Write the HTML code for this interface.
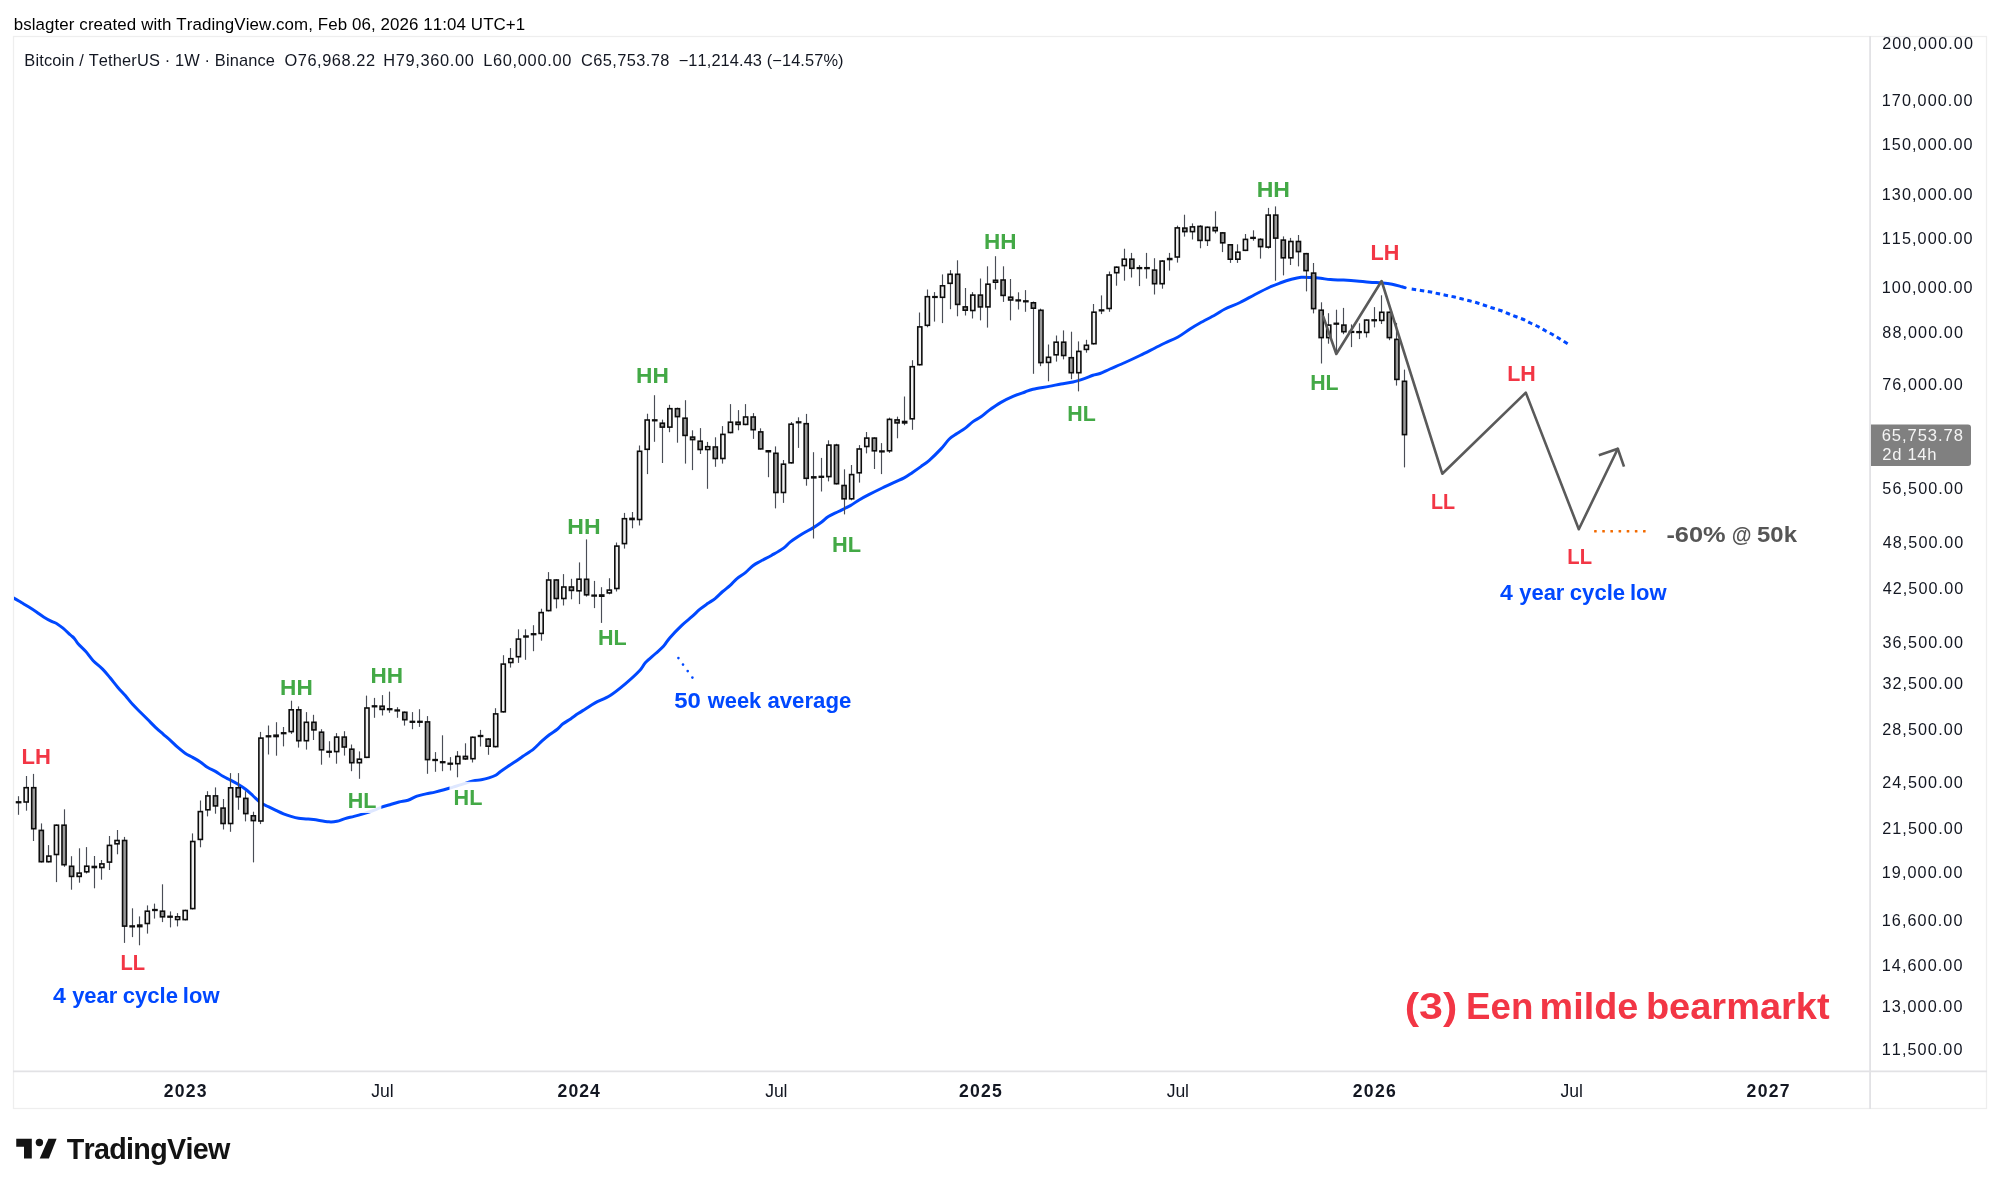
<!DOCTYPE html><html><head><meta charset="utf-8"><style>html,body{margin:0;padding:0;background:#fff;width:2000px;height:1190px;overflow:hidden}svg{display:block;will-change:transform}text{font-family:"Liberation Sans",sans-serif;font-kerning:none;white-space:pre}</style></head><body>
<svg width="2000" height="1190" viewBox="0 0 2000 1190">
<rect x="0" y="0" width="2000" height="1190" fill="#ffffff"/>
<text x="13.71" y="29.70" font-size="16.90" textLength="511.51" fill="#000000" style="">bslagter created with TradingView.com, Feb 06, 2026 11:04 UTC+1</text>
<rect x="13.5" y="36.5" width="1973" height="1072" fill="none" stroke="#eeeeee" stroke-width="1.3"/>
<line x1="1870.1" y1="36" x2="1870.1" y2="1109" stroke="#e2e2e5" stroke-width="1.8"/>
<line x1="13" y1="1071.3" x2="1987" y2="1071.3" stroke="#e2e2e5" stroke-width="1.8"/>
<text x="24.35" y="66.10" font-size="16.40" textLength="250.62" fill="#131722" style="">Bitcoin / TetherUS · 1W · Binance</text>
<text x="284.42" y="66.10" font-size="16.40" textLength="90.65" fill="#131722" style="">O76,968.22</text>
<text x="383.25" y="66.10" font-size="16.40" textLength="90.64" fill="#131722" style="">H79,360.00</text>
<text x="483.15" y="66.10" font-size="16.40" textLength="88.24" fill="#131722" style="">L60,000.00</text>
<text x="580.92" y="66.10" font-size="16.40" textLength="88.55" fill="#131722" style="">C65,753.78</text>
<text x="678.69" y="66.10" font-size="16.40" textLength="164.83" fill="#131722" style="">−11,214.43 (−14.57%)</text>
<text x="1882.19" y="48.73" font-size="16.20" textLength="90.75" fill="#131722" style="">200,000.00</text>
<text x="1881.77" y="105.98" font-size="16.20" textLength="90.75" fill="#131722" style="">170,000.00</text>
<text x="1881.77" y="150.07" font-size="16.20" textLength="90.75" fill="#131722" style="">150,000.00</text>
<text x="1881.77" y="200.49" font-size="16.20" textLength="90.75" fill="#131722" style="">130,000.00</text>
<text x="1881.77" y="243.68" font-size="16.20" textLength="90.75" fill="#131722" style="">115,000.00</text>
<text x="1881.77" y="292.91" font-size="16.20" textLength="90.75" fill="#131722" style="">100,000.00</text>
<text x="1882.30" y="337.95" font-size="16.20" textLength="80.66" fill="#131722" style="">88,000.00</text>
<text x="1882.17" y="389.59" font-size="16.20" textLength="80.66" fill="#131722" style="">76,000.00</text>
<text x="1882.35" y="494.04" font-size="16.20" textLength="80.66" fill="#131722" style="">56,500.00</text>
<text x="1882.63" y="547.83" font-size="16.20" textLength="80.66" fill="#131722" style="">48,500.00</text>
<text x="1882.63" y="594.35" font-size="16.20" textLength="80.66" fill="#131722" style="">42,500.00</text>
<text x="1882.38" y="647.96" font-size="16.20" textLength="80.66" fill="#131722" style="">36,500.00</text>
<text x="1882.38" y="688.85" font-size="16.20" textLength="80.66" fill="#131722" style="">32,500.00</text>
<text x="1882.19" y="735.12" font-size="16.20" textLength="80.66" fill="#131722" style="">28,500.00</text>
<text x="1882.19" y="788.40" font-size="16.20" textLength="80.66" fill="#131722" style="">24,500.00</text>
<text x="1882.19" y="834.41" font-size="16.20" textLength="80.66" fill="#131722" style="">21,500.00</text>
<text x="1881.77" y="877.96" font-size="16.20" textLength="80.66" fill="#131722" style="">19,000.00</text>
<text x="1881.77" y="925.53" font-size="16.20" textLength="80.66" fill="#131722" style="">16,600.00</text>
<text x="1881.77" y="970.76" font-size="16.20" textLength="80.66" fill="#131722" style="">14,600.00</text>
<text x="1881.77" y="1011.65" font-size="16.20" textLength="80.66" fill="#131722" style="">13,000.00</text>
<text x="1881.77" y="1054.84" font-size="16.20" textLength="80.66" fill="#131722" style="">11,500.00</text>
<text x="163.79" y="1096.60" font-size="17.60" textLength="42.85" fill="#131722" style="font-weight:bold;">2023</text>
<text x="371.33" y="1096.60" font-size="17.60" textLength="22.25" fill="#131722" style="">Jul</text>
<text x="557.59" y="1096.60" font-size="17.60" textLength="42.30" fill="#131722" style="font-weight:bold;">2024</text>
<text x="765.23" y="1096.60" font-size="17.60" textLength="22.25" fill="#131722" style="">Jul</text>
<text x="959.09" y="1096.60" font-size="17.60" textLength="42.70" fill="#131722" style="font-weight:bold;">2025</text>
<text x="1166.72" y="1096.60" font-size="17.60" textLength="22.25" fill="#131722" style="">Jul</text>
<text x="1352.84" y="1096.60" font-size="17.60" textLength="42.85" fill="#131722" style="font-weight:bold;">2026</text>
<text x="1560.62" y="1096.60" font-size="17.60" textLength="22.25" fill="#131722" style="">Jul</text>
<text x="1746.59" y="1096.60" font-size="17.60" textLength="42.98" fill="#131722" style="font-weight:bold;">2027</text>
<defs><clipPath id="pane"><rect x="14" y="37" width="1855.5" height="1033.5"/></clipPath></defs>
<path clip-path="url(#pane)" d="M8.00,594.90 C9.03,595.47 11.98,597.03 14.20,598.30 C16.42,599.57 18.85,601.05 21.30,602.50 C23.75,603.95 26.37,605.43 28.90,607.00 C31.43,608.57 33.98,610.20 36.50,611.90 C39.02,613.60 41.48,615.62 44.00,617.20 C46.52,618.78 49.45,620.32 51.60,621.40 C53.75,622.48 55.00,622.57 56.90,623.70 C58.80,624.83 60.73,626.32 63.00,628.20 C65.27,630.08 68.62,633.30 70.50,635.00 C72.38,636.70 73.03,636.95 74.30,638.40 C75.57,639.85 76.22,641.55 78.10,643.70 C79.98,645.85 83.08,648.47 85.60,651.30 C88.12,654.13 90.37,657.73 93.20,660.70 C96.03,663.67 99.78,666.25 102.60,669.10 C105.42,671.95 107.58,674.78 110.10,677.80 C112.62,680.82 115.17,684.23 117.70,687.20 C120.23,690.17 122.78,692.70 125.30,695.60 C127.82,698.50 130.28,701.83 132.80,704.60 C135.32,707.37 137.87,709.67 140.40,712.20 C142.93,714.73 145.48,717.28 148.00,719.80 C150.52,722.32 152.98,724.92 155.50,727.30 C158.02,729.68 160.58,731.88 163.10,734.10 C165.62,736.32 168.18,738.42 170.60,740.60 C173.02,742.78 175.18,745.10 177.60,747.20 C180.02,749.30 182.58,751.50 185.10,753.20 C187.62,754.90 190.17,755.95 192.70,757.40 C195.23,758.85 197.78,760.20 200.30,761.90 C202.82,763.60 205.28,766.02 207.80,767.60 C210.32,769.18 212.87,769.95 215.40,771.40 C217.93,772.85 220.48,774.85 223.00,776.30 C225.52,777.75 227.98,778.77 230.50,780.10 C233.02,781.43 235.58,782.78 238.10,784.30 C240.62,785.82 243.08,787.25 245.60,789.20 C248.12,791.15 250.67,793.73 253.20,796.00 C255.73,798.27 258.28,801.03 260.80,802.80 C263.32,804.57 265.78,805.35 268.30,806.60 C270.82,807.85 273.37,809.10 275.90,810.30 C278.43,811.50 280.98,812.78 283.50,813.80 C286.02,814.82 288.48,815.65 291.00,816.40 C293.52,817.15 296.10,817.88 298.60,818.30 C301.10,818.72 303.52,818.70 306.00,818.90 C308.48,819.10 309.70,819.02 313.50,819.50 C317.30,819.98 324.90,821.50 328.80,821.80 C332.70,822.10 334.20,821.83 336.90,821.30 C339.60,820.77 342.15,819.42 345.00,818.60 C347.85,817.78 351.00,817.18 354.00,816.40 C357.00,815.62 360.00,814.80 363.00,813.90 C366.00,813.00 369.00,812.08 372.00,811.00 C375.00,809.92 378.00,808.45 381.00,807.40 C384.00,806.35 387.00,805.60 390.00,804.70 C393.00,803.80 396.00,802.75 399.00,802.00 C402.00,801.25 405.00,801.18 408.00,800.20 C411.00,799.22 414.00,797.15 417.00,796.10 C420.00,795.05 423.00,794.57 426.00,793.90 C429.00,793.23 432.00,792.78 435.00,792.10 C438.00,791.42 441.00,790.63 444.00,789.80 C447.00,788.97 450.00,788.00 453.00,787.10 C456.00,786.20 458.67,785.43 462.00,784.40 C465.33,783.37 469.78,781.67 473.00,780.90 C476.22,780.13 478.65,780.30 481.30,779.80 C483.95,779.30 486.50,778.67 488.90,777.90 C491.30,777.13 493.82,776.22 495.70,775.20 C497.58,774.18 498.18,773.25 500.20,771.80 C502.22,770.35 505.27,768.20 507.80,766.50 C510.33,764.80 512.88,763.30 515.40,761.60 C517.92,759.90 519.88,758.38 522.90,756.30 C525.92,754.22 530.35,751.62 533.50,749.10 C536.65,746.58 539.15,743.58 541.80,741.20 C544.45,738.82 546.87,736.75 549.40,734.80 C551.93,732.85 554.73,731.33 557.00,729.50 C559.27,727.67 560.73,725.57 563.00,723.80 C565.27,722.03 568.08,720.60 570.60,718.90 C573.12,717.20 575.63,715.25 578.10,713.60 C580.57,711.95 582.57,710.78 585.40,709.00 C588.23,707.22 590.97,705.17 595.10,702.90 C599.23,700.63 605.17,698.58 610.20,695.40 C615.23,692.22 620.42,687.92 625.30,683.80 C630.18,679.68 636.13,674.23 639.50,670.70 C642.87,667.17 642.82,665.47 645.50,662.60 C648.18,659.73 652.57,656.27 655.60,653.50 C658.63,650.73 661.35,648.60 663.70,646.00 C666.05,643.40 666.68,641.35 669.70,637.90 C672.72,634.45 678.10,628.83 681.80,625.30 C685.50,621.77 688.87,619.38 691.90,616.70 C694.93,614.02 697.38,611.38 700.00,609.20 C702.62,607.02 705.08,605.37 707.60,603.60 C710.12,601.83 712.58,600.62 715.10,598.60 C717.62,596.58 720.18,593.70 722.70,591.50 C725.22,589.30 727.82,587.55 730.20,585.40 C732.58,583.25 734.47,580.73 737.00,578.60 C739.53,576.47 742.75,574.75 745.40,572.60 C748.05,570.45 750.38,567.60 752.90,565.70 C755.42,563.80 757.35,562.95 760.50,561.20 C763.65,559.45 768.02,557.33 771.80,555.20 C775.58,553.07 780.05,550.67 783.20,548.40 C786.35,546.13 787.55,544.00 790.70,541.60 C793.85,539.20 798.32,536.33 802.10,534.00 C805.88,531.67 810.13,529.60 813.40,527.60 C816.67,525.60 819.20,523.83 821.70,522.00 C824.20,520.17 825.60,518.35 828.40,516.60 C831.20,514.85 834.85,513.33 838.50,511.50 C842.15,509.67 846.93,507.48 850.30,505.60 C853.67,503.72 855.62,502.02 858.70,500.20 C861.78,498.38 864.88,496.73 868.80,494.70 C872.72,492.67 877.87,490.10 882.20,488.00 C886.53,485.90 891.15,483.78 894.80,482.10 C898.45,480.42 901.15,479.52 904.10,477.90 C907.05,476.28 909.70,474.28 912.50,472.40 C915.30,470.52 918.10,468.62 920.90,466.60 C923.70,464.58 925.95,463.25 929.30,460.30 C932.65,457.35 937.67,452.45 941.00,448.90 C944.33,445.35 946.63,441.55 949.30,439.00 C951.97,436.45 954.38,435.37 957.00,433.60 C959.62,431.83 962.33,430.40 965.00,428.40 C967.67,426.40 970.33,423.53 973.00,421.60 C975.67,419.67 978.33,418.67 981.00,416.80 C983.67,414.93 985.67,412.80 989.00,410.40 C992.33,408.00 997.00,404.73 1001.00,402.40 C1005.00,400.07 1009.00,398.13 1013.00,396.40 C1017.00,394.67 1021.67,393.20 1025.00,392.00 C1028.33,390.80 1029.00,390.13 1033.00,389.20 C1037.00,388.27 1044.33,387.27 1049.00,386.40 C1053.67,385.53 1057.00,384.73 1061.00,384.00 C1065.00,383.27 1069.00,382.93 1073.00,382.00 C1077.00,381.07 1081.67,379.53 1085.00,378.40 C1088.33,377.27 1090.50,376.02 1093.00,375.20 C1095.50,374.38 1097.17,374.53 1100.00,373.50 C1102.83,372.47 1105.83,370.83 1110.00,369.00 C1114.17,367.17 1120.00,364.75 1125.00,362.50 C1130.00,360.25 1135.00,357.92 1140.00,355.50 C1145.00,353.08 1150.83,350.08 1155.00,348.00 C1159.17,345.92 1161.17,344.83 1165.00,343.00 C1168.83,341.17 1173.83,339.33 1178.00,337.00 C1182.17,334.67 1186.33,331.33 1190.00,329.00 C1193.67,326.67 1195.83,325.33 1200.00,323.00 C1204.17,320.67 1210.83,317.33 1215.00,315.00 C1219.17,312.67 1220.83,311.08 1225.00,309.00 C1229.17,306.92 1235.00,304.92 1240.00,302.50 C1245.00,300.08 1250.00,297.08 1255.00,294.50 C1260.00,291.92 1265.83,288.92 1270.00,287.00 C1274.17,285.08 1276.42,284.28 1280.00,283.00 C1283.58,281.72 1287.97,280.25 1291.50,279.30 C1295.03,278.35 1297.95,277.60 1301.20,277.30 C1304.45,277.00 1307.75,277.33 1311.00,277.50 C1314.25,277.67 1317.45,277.95 1320.70,278.30 C1323.95,278.65 1326.70,279.30 1330.50,279.60 C1334.30,279.90 1339.17,279.88 1343.50,280.10 C1347.83,280.32 1352.17,280.55 1356.50,280.90 C1360.83,281.25 1365.17,281.87 1369.50,282.20 C1373.83,282.53 1378.72,282.57 1382.50,282.90 C1386.28,283.23 1388.95,283.55 1392.20,284.20 C1395.45,284.85 1399.83,286.22 1402.00,286.80 C1404.17,287.38 1404.67,287.55 1405.20,287.70" fill="none" stroke="#0048ff" stroke-width="3" stroke-linejoin="round" stroke-linecap="round"/>
<path d="M1411.70,289.10 C1413.25,289.33 1418.03,290.05 1421.00,290.50 C1423.97,290.95 1426.75,291.30 1429.50,291.80 C1432.25,292.30 1434.83,292.93 1437.50,293.50 C1440.17,294.07 1442.83,294.65 1445.50,295.20 C1448.17,295.75 1450.83,296.20 1453.50,296.80 C1456.17,297.40 1458.83,298.13 1461.50,298.80 C1464.17,299.47 1466.83,300.10 1469.50,300.80 C1472.17,301.50 1474.92,302.22 1477.50,303.00 C1480.08,303.78 1482.50,304.67 1485.00,305.50 C1487.50,306.33 1489.92,307.17 1492.50,308.00 C1495.08,308.83 1497.92,309.58 1500.50,310.50 C1503.08,311.42 1505.50,312.50 1508.00,313.50 C1510.50,314.50 1512.92,315.50 1515.50,316.50 C1518.08,317.50 1521.00,318.42 1523.50,319.50 C1526.00,320.58 1528.08,321.83 1530.50,323.00 C1532.92,324.17 1535.58,325.25 1538.00,326.50 C1540.42,327.75 1542.58,329.17 1545.00,330.50 C1547.42,331.83 1550.00,333.08 1552.50,334.50 C1555.00,335.92 1557.42,337.42 1560.00,339.00 C1562.58,340.58 1566.67,343.17 1568.00,344.00" fill="none" stroke="#0048ff" stroke-width="3" stroke-dasharray="4.5 3.6" stroke-linejoin="round"/>
<line x1="18.50" y1="796.2" x2="18.50" y2="814.8" stroke="#4a4d56" stroke-width="1.15"/>
<line x1="26.50" y1="776.0" x2="26.50" y2="810.7" stroke="#4a4d56" stroke-width="1.15"/>
<line x1="33.50" y1="773.9" x2="33.50" y2="841.0" stroke="#4a4d56" stroke-width="1.15"/>
<line x1="41.50" y1="823.4" x2="41.50" y2="862.5" stroke="#4a4d56" stroke-width="1.15"/>
<line x1="48.50" y1="845.1" x2="48.50" y2="862.5" stroke="#4a4d56" stroke-width="1.15"/>
<line x1="56.50" y1="824.4" x2="56.50" y2="882.1" stroke="#4a4d56" stroke-width="1.15"/>
<line x1="64.50" y1="809.3" x2="64.50" y2="866.8" stroke="#4a4d56" stroke-width="1.15"/>
<line x1="71.50" y1="856.2" x2="71.50" y2="889.7" stroke="#4a4d56" stroke-width="1.15"/>
<line x1="79.50" y1="848.3" x2="79.50" y2="882.7" stroke="#4a4d56" stroke-width="1.15"/>
<line x1="86.50" y1="847.1" x2="86.50" y2="873.5" stroke="#4a4d56" stroke-width="1.15"/>
<line x1="94.50" y1="856.0" x2="94.50" y2="888.3" stroke="#4a4d56" stroke-width="1.15"/>
<line x1="101.50" y1="860.0" x2="101.50" y2="879.7" stroke="#4a4d56" stroke-width="1.15"/>
<line x1="109.50" y1="836.0" x2="109.50" y2="870.0" stroke="#4a4d56" stroke-width="1.15"/>
<line x1="117.50" y1="830.0" x2="117.50" y2="854.3" stroke="#4a4d56" stroke-width="1.15"/>
<line x1="124.50" y1="836.9" x2="124.50" y2="942.9" stroke="#4a4d56" stroke-width="1.15"/>
<line x1="132.50" y1="908.3" x2="132.50" y2="937.1" stroke="#4a4d56" stroke-width="1.15"/>
<line x1="139.50" y1="916.4" x2="139.50" y2="945.3" stroke="#4a4d56" stroke-width="1.15"/>
<line x1="147.50" y1="905.4" x2="147.50" y2="933.6" stroke="#4a4d56" stroke-width="1.15"/>
<line x1="154.50" y1="903.6" x2="154.50" y2="918.6" stroke="#4a4d56" stroke-width="1.15"/>
<line x1="162.50" y1="884.3" x2="162.50" y2="922.1" stroke="#4a4d56" stroke-width="1.15"/>
<line x1="170.50" y1="911.4" x2="170.50" y2="927.4" stroke="#4a4d56" stroke-width="1.15"/>
<line x1="177.50" y1="913.1" x2="177.50" y2="926.4" stroke="#4a4d56" stroke-width="1.15"/>
<line x1="185.50" y1="909.7" x2="185.50" y2="920.4" stroke="#4a4d56" stroke-width="1.15"/>
<line x1="192.50" y1="833.4" x2="192.50" y2="909.4" stroke="#4a4d56" stroke-width="1.15"/>
<line x1="200.50" y1="800.5" x2="200.50" y2="847.3" stroke="#4a4d56" stroke-width="1.15"/>
<line x1="207.50" y1="791.2" x2="207.50" y2="816.4" stroke="#4a4d56" stroke-width="1.15"/>
<line x1="215.50" y1="787.4" x2="215.50" y2="813.7" stroke="#4a4d56" stroke-width="1.15"/>
<line x1="223.50" y1="799.0" x2="223.50" y2="829.5" stroke="#4a4d56" stroke-width="1.15"/>
<line x1="230.50" y1="773.1" x2="230.50" y2="831.8" stroke="#4a4d56" stroke-width="1.15"/>
<line x1="238.50" y1="773.1" x2="238.50" y2="809.8" stroke="#4a4d56" stroke-width="1.15"/>
<line x1="245.50" y1="791.2" x2="245.50" y2="821.4" stroke="#4a4d56" stroke-width="1.15"/>
<line x1="253.50" y1="811.7" x2="253.50" y2="862.4" stroke="#4a4d56" stroke-width="1.15"/>
<line x1="260.50" y1="731.9" x2="260.50" y2="824.1" stroke="#4a4d56" stroke-width="1.15"/>
<line x1="268.50" y1="725.5" x2="268.50" y2="754.5" stroke="#4a4d56" stroke-width="1.15"/>
<line x1="276.50" y1="722.2" x2="276.50" y2="755.7" stroke="#4a4d56" stroke-width="1.15"/>
<line x1="283.50" y1="727.0" x2="283.50" y2="746.4" stroke="#4a4d56" stroke-width="1.15"/>
<line x1="291.50" y1="700.7" x2="291.50" y2="733.9" stroke="#4a4d56" stroke-width="1.15"/>
<line x1="298.50" y1="706.4" x2="298.50" y2="747.6" stroke="#4a4d56" stroke-width="1.15"/>
<line x1="306.50" y1="712.1" x2="306.50" y2="749.6" stroke="#4a4d56" stroke-width="1.15"/>
<line x1="313.50" y1="714.8" x2="313.50" y2="740.0" stroke="#4a4d56" stroke-width="1.15"/>
<line x1="321.50" y1="729.2" x2="321.50" y2="764.7" stroke="#4a4d56" stroke-width="1.15"/>
<line x1="329.50" y1="741.2" x2="329.50" y2="757.6" stroke="#4a4d56" stroke-width="1.15"/>
<line x1="336.50" y1="733.1" x2="336.50" y2="763.7" stroke="#4a4d56" stroke-width="1.15"/>
<line x1="344.50" y1="731.2" x2="344.50" y2="755.6" stroke="#4a4d56" stroke-width="1.15"/>
<line x1="351.50" y1="744.5" x2="351.50" y2="771.2" stroke="#4a4d56" stroke-width="1.15"/>
<line x1="359.50" y1="751.4" x2="359.50" y2="778.8" stroke="#4a4d56" stroke-width="1.15"/>
<line x1="366.50" y1="695.6" x2="366.50" y2="758.1" stroke="#4a4d56" stroke-width="1.15"/>
<line x1="374.50" y1="697.9" x2="374.50" y2="717.8" stroke="#4a4d56" stroke-width="1.15"/>
<line x1="382.50" y1="695.1" x2="382.50" y2="715.5" stroke="#4a4d56" stroke-width="1.15"/>
<line x1="389.50" y1="691.6" x2="389.50" y2="712.8" stroke="#4a4d56" stroke-width="1.15"/>
<line x1="397.50" y1="707.2" x2="397.50" y2="717.8" stroke="#4a4d56" stroke-width="1.15"/>
<line x1="404.50" y1="711.5" x2="404.50" y2="725.6" stroke="#4a4d56" stroke-width="1.15"/>
<line x1="412.50" y1="712.1" x2="412.50" y2="729.2" stroke="#4a4d56" stroke-width="1.15"/>
<line x1="419.50" y1="709.2" x2="419.50" y2="726.9" stroke="#4a4d56" stroke-width="1.15"/>
<line x1="427.50" y1="716.1" x2="427.50" y2="773.8" stroke="#4a4d56" stroke-width="1.15"/>
<line x1="435.50" y1="752.1" x2="435.50" y2="771.8" stroke="#4a4d56" stroke-width="1.15"/>
<line x1="442.50" y1="735.3" x2="442.50" y2="771.2" stroke="#4a4d56" stroke-width="1.15"/>
<line x1="450.50" y1="757.1" x2="450.50" y2="770.5" stroke="#4a4d56" stroke-width="1.15"/>
<line x1="457.50" y1="751.1" x2="457.50" y2="777.3" stroke="#4a4d56" stroke-width="1.15"/>
<line x1="465.50" y1="743.3" x2="465.50" y2="760.0" stroke="#4a4d56" stroke-width="1.15"/>
<line x1="472.50" y1="736.5" x2="472.50" y2="762.5" stroke="#4a4d56" stroke-width="1.15"/>
<line x1="480.50" y1="729.9" x2="480.50" y2="746.5" stroke="#4a4d56" stroke-width="1.15"/>
<line x1="488.50" y1="738.0" x2="488.50" y2="754.8" stroke="#4a4d56" stroke-width="1.15"/>
<line x1="495.50" y1="708.2" x2="495.50" y2="747.4" stroke="#4a4d56" stroke-width="1.15"/>
<line x1="503.50" y1="655.2" x2="503.50" y2="712.6" stroke="#4a4d56" stroke-width="1.15"/>
<line x1="510.50" y1="648.1" x2="510.50" y2="667.6" stroke="#4a4d56" stroke-width="1.15"/>
<line x1="518.50" y1="629.3" x2="518.50" y2="662.9" stroke="#4a4d56" stroke-width="1.15"/>
<line x1="525.50" y1="629.3" x2="525.50" y2="659.8" stroke="#4a4d56" stroke-width="1.15"/>
<line x1="533.50" y1="625.2" x2="533.50" y2="651.2" stroke="#4a4d56" stroke-width="1.15"/>
<line x1="541.50" y1="608.7" x2="541.50" y2="640.7" stroke="#4a4d56" stroke-width="1.15"/>
<line x1="548.50" y1="572.1" x2="548.50" y2="611.4" stroke="#4a4d56" stroke-width="1.15"/>
<line x1="556.50" y1="579.2" x2="556.50" y2="608.4" stroke="#4a4d56" stroke-width="1.15"/>
<line x1="563.50" y1="574.1" x2="563.50" y2="605.5" stroke="#4a4d56" stroke-width="1.15"/>
<line x1="571.50" y1="578.8" x2="571.50" y2="599.3" stroke="#4a4d56" stroke-width="1.15"/>
<line x1="579.50" y1="562.4" x2="579.50" y2="604.1" stroke="#4a4d56" stroke-width="1.15"/>
<line x1="586.50" y1="539.4" x2="586.50" y2="596.6" stroke="#4a4d56" stroke-width="1.15"/>
<line x1="594.50" y1="580.9" x2="594.50" y2="608.1" stroke="#4a4d56" stroke-width="1.15"/>
<line x1="601.50" y1="587.2" x2="601.50" y2="622.9" stroke="#4a4d56" stroke-width="1.15"/>
<line x1="609.50" y1="578.2" x2="609.50" y2="594.3" stroke="#4a4d56" stroke-width="1.15"/>
<line x1="616.50" y1="542.5" x2="616.50" y2="591.5" stroke="#4a4d56" stroke-width="1.15"/>
<line x1="624.50" y1="512.9" x2="624.50" y2="548.6" stroke="#4a4d56" stroke-width="1.15"/>
<line x1="632.50" y1="512.0" x2="632.50" y2="528.3" stroke="#4a4d56" stroke-width="1.15"/>
<line x1="639.50" y1="445.5" x2="639.50" y2="525.5" stroke="#4a4d56" stroke-width="1.15"/>
<line x1="647.50" y1="413.7" x2="647.50" y2="474.1" stroke="#4a4d56" stroke-width="1.15"/>
<line x1="654.50" y1="395.2" x2="654.50" y2="441.8" stroke="#4a4d56" stroke-width="1.15"/>
<line x1="662.50" y1="419.6" x2="662.50" y2="463.0" stroke="#4a4d56" stroke-width="1.15"/>
<line x1="669.50" y1="404.8" x2="669.50" y2="432.2" stroke="#4a4d56" stroke-width="1.15"/>
<line x1="677.50" y1="407.6" x2="677.50" y2="442.7" stroke="#4a4d56" stroke-width="1.15"/>
<line x1="685.50" y1="400.2" x2="685.50" y2="463.6" stroke="#4a4d56" stroke-width="1.15"/>
<line x1="692.50" y1="430.3" x2="692.50" y2="470.1" stroke="#4a4d56" stroke-width="1.15"/>
<line x1="700.50" y1="428.1" x2="700.50" y2="454.0" stroke="#4a4d56" stroke-width="1.15"/>
<line x1="707.50" y1="441.9" x2="707.50" y2="488.8" stroke="#4a4d56" stroke-width="1.15"/>
<line x1="715.50" y1="437.3" x2="715.50" y2="466.8" stroke="#4a4d56" stroke-width="1.15"/>
<line x1="722.50" y1="426.1" x2="722.50" y2="463.6" stroke="#4a4d56" stroke-width="1.15"/>
<line x1="730.50" y1="404.1" x2="730.50" y2="433.3" stroke="#4a4d56" stroke-width="1.15"/>
<line x1="738.50" y1="410.1" x2="738.50" y2="430.3" stroke="#4a4d56" stroke-width="1.15"/>
<line x1="745.50" y1="404.1" x2="745.50" y2="425.2" stroke="#4a4d56" stroke-width="1.15"/>
<line x1="753.50" y1="413.1" x2="753.50" y2="438.9" stroke="#4a4d56" stroke-width="1.15"/>
<line x1="760.50" y1="428.3" x2="760.50" y2="449.7" stroke="#4a4d56" stroke-width="1.15"/>
<line x1="768.50" y1="450.0" x2="768.50" y2="477.2" stroke="#4a4d56" stroke-width="1.15"/>
<line x1="775.50" y1="446.4" x2="775.50" y2="508.4" stroke="#4a4d56" stroke-width="1.15"/>
<line x1="783.50" y1="460.0" x2="783.50" y2="502.9" stroke="#4a4d56" stroke-width="1.15"/>
<line x1="791.50" y1="422.0" x2="791.50" y2="463.6" stroke="#4a4d56" stroke-width="1.15"/>
<line x1="798.50" y1="417.3" x2="798.50" y2="447.9" stroke="#4a4d56" stroke-width="1.15"/>
<line x1="806.50" y1="413.9" x2="806.50" y2="485.7" stroke="#4a4d56" stroke-width="1.15"/>
<line x1="813.50" y1="452.2" x2="813.50" y2="538.5" stroke="#4a4d56" stroke-width="1.15"/>
<line x1="821.50" y1="457.9" x2="821.50" y2="491.5" stroke="#4a4d56" stroke-width="1.15"/>
<line x1="828.50" y1="440.3" x2="828.50" y2="481.4" stroke="#4a4d56" stroke-width="1.15"/>
<line x1="836.50" y1="443.8" x2="836.50" y2="484.5" stroke="#4a4d56" stroke-width="1.15"/>
<line x1="844.50" y1="469.3" x2="844.50" y2="514.4" stroke="#4a4d56" stroke-width="1.15"/>
<line x1="851.50" y1="465.0" x2="851.50" y2="500.3" stroke="#4a4d56" stroke-width="1.15"/>
<line x1="859.50" y1="445.1" x2="859.50" y2="482.6" stroke="#4a4d56" stroke-width="1.15"/>
<line x1="866.50" y1="432.0" x2="866.50" y2="453.4" stroke="#4a4d56" stroke-width="1.15"/>
<line x1="874.50" y1="437.3" x2="874.50" y2="469.0" stroke="#4a4d56" stroke-width="1.15"/>
<line x1="881.50" y1="443.1" x2="881.50" y2="474.1" stroke="#4a4d56" stroke-width="1.15"/>
<line x1="889.50" y1="417.6" x2="889.50" y2="452.9" stroke="#4a4d56" stroke-width="1.15"/>
<line x1="897.50" y1="416.6" x2="897.50" y2="438.3" stroke="#4a4d56" stroke-width="1.15"/>
<line x1="904.50" y1="396.5" x2="904.50" y2="425.2" stroke="#4a4d56" stroke-width="1.15"/>
<line x1="912.50" y1="360.2" x2="912.50" y2="429.8" stroke="#4a4d56" stroke-width="1.15"/>
<line x1="919.50" y1="312.5" x2="919.50" y2="365.5" stroke="#4a4d56" stroke-width="1.15"/>
<line x1="927.50" y1="289.5" x2="927.50" y2="327.3" stroke="#4a4d56" stroke-width="1.15"/>
<line x1="934.50" y1="292.1" x2="934.50" y2="321.6" stroke="#4a4d56" stroke-width="1.15"/>
<line x1="942.50" y1="274.4" x2="942.50" y2="323.1" stroke="#4a4d56" stroke-width="1.15"/>
<line x1="950.50" y1="270.1" x2="950.50" y2="309.2" stroke="#4a4d56" stroke-width="1.15"/>
<line x1="957.50" y1="260.3" x2="957.50" y2="316.3" stroke="#4a4d56" stroke-width="1.15"/>
<line x1="965.50" y1="288.0" x2="965.50" y2="315.5" stroke="#4a4d56" stroke-width="1.15"/>
<line x1="972.50" y1="292.1" x2="972.50" y2="318.5" stroke="#4a4d56" stroke-width="1.15"/>
<line x1="980.50" y1="278.5" x2="980.50" y2="320.4" stroke="#4a4d56" stroke-width="1.15"/>
<line x1="987.50" y1="266.3" x2="987.50" y2="327.6" stroke="#4a4d56" stroke-width="1.15"/>
<line x1="995.50" y1="256.2" x2="995.50" y2="289.5" stroke="#4a4d56" stroke-width="1.15"/>
<line x1="1003.50" y1="266.3" x2="1003.50" y2="301.9" stroke="#4a4d56" stroke-width="1.15"/>
<line x1="1010.50" y1="279.0" x2="1010.50" y2="320.4" stroke="#4a4d56" stroke-width="1.15"/>
<line x1="1018.50" y1="292.3" x2="1018.50" y2="309.5" stroke="#4a4d56" stroke-width="1.15"/>
<line x1="1025.50" y1="290.1" x2="1025.50" y2="311.8" stroke="#4a4d56" stroke-width="1.15"/>
<line x1="1033.50" y1="301.5" x2="1033.50" y2="373.8" stroke="#4a4d56" stroke-width="1.15"/>
<line x1="1040.50" y1="308.6" x2="1040.50" y2="366.2" stroke="#4a4d56" stroke-width="1.15"/>
<line x1="1048.50" y1="344.5" x2="1048.50" y2="381.3" stroke="#4a4d56" stroke-width="1.15"/>
<line x1="1056.50" y1="335.5" x2="1056.50" y2="361.6" stroke="#4a4d56" stroke-width="1.15"/>
<line x1="1063.50" y1="330.4" x2="1063.50" y2="359.4" stroke="#4a4d56" stroke-width="1.15"/>
<line x1="1071.50" y1="331.7" x2="1071.50" y2="379.2" stroke="#4a4d56" stroke-width="1.15"/>
<line x1="1078.50" y1="341.4" x2="1078.50" y2="391.4" stroke="#4a4d56" stroke-width="1.15"/>
<line x1="1086.50" y1="339.8" x2="1086.50" y2="352.7" stroke="#4a4d56" stroke-width="1.15"/>
<line x1="1093.50" y1="304.0" x2="1093.50" y2="344.5" stroke="#4a4d56" stroke-width="1.15"/>
<line x1="1101.50" y1="295.4" x2="1101.50" y2="314.1" stroke="#4a4d56" stroke-width="1.15"/>
<line x1="1109.50" y1="271.5" x2="1109.50" y2="311.8" stroke="#4a4d56" stroke-width="1.15"/>
<line x1="1116.50" y1="266.4" x2="1116.50" y2="285.7" stroke="#4a4d56" stroke-width="1.15"/>
<line x1="1124.50" y1="248.7" x2="1124.50" y2="280.7" stroke="#4a4d56" stroke-width="1.15"/>
<line x1="1131.50" y1="252.9" x2="1131.50" y2="277.5" stroke="#4a4d56" stroke-width="1.15"/>
<line x1="1139.50" y1="265.1" x2="1139.50" y2="286.1" stroke="#4a4d56" stroke-width="1.15"/>
<line x1="1146.50" y1="252.9" x2="1146.50" y2="278.6" stroke="#4a4d56" stroke-width="1.15"/>
<line x1="1154.50" y1="258.2" x2="1154.50" y2="294.5" stroke="#4a4d56" stroke-width="1.15"/>
<line x1="1162.50" y1="260.1" x2="1162.50" y2="288.7" stroke="#4a4d56" stroke-width="1.15"/>
<line x1="1169.50" y1="252.9" x2="1169.50" y2="270.6" stroke="#4a4d56" stroke-width="1.15"/>
<line x1="1177.50" y1="225.6" x2="1177.50" y2="262.6" stroke="#4a4d56" stroke-width="1.15"/>
<line x1="1184.50" y1="214.7" x2="1184.50" y2="236.6" stroke="#4a4d56" stroke-width="1.15"/>
<line x1="1192.50" y1="223.4" x2="1192.50" y2="239.5" stroke="#4a4d56" stroke-width="1.15"/>
<line x1="1200.50" y1="225.2" x2="1200.50" y2="248.3" stroke="#4a4d56" stroke-width="1.15"/>
<line x1="1207.50" y1="226.5" x2="1207.50" y2="246.0" stroke="#4a4d56" stroke-width="1.15"/>
<line x1="1215.50" y1="211.3" x2="1215.50" y2="233.4" stroke="#4a4d56" stroke-width="1.15"/>
<line x1="1222.50" y1="232.1" x2="1222.50" y2="252.1" stroke="#4a4d56" stroke-width="1.15"/>
<line x1="1230.50" y1="244.0" x2="1230.50" y2="262.9" stroke="#4a4d56" stroke-width="1.15"/>
<line x1="1237.50" y1="244.3" x2="1237.50" y2="262.9" stroke="#4a4d56" stroke-width="1.15"/>
<line x1="1245.50" y1="234.0" x2="1245.50" y2="251.1" stroke="#4a4d56" stroke-width="1.15"/>
<line x1="1253.50" y1="230.3" x2="1253.50" y2="240.7" stroke="#4a4d56" stroke-width="1.15"/>
<line x1="1260.50" y1="238.3" x2="1260.50" y2="258.6" stroke="#4a4d56" stroke-width="1.15"/>
<line x1="1268.50" y1="207.9" x2="1268.50" y2="248.6" stroke="#4a4d56" stroke-width="1.15"/>
<line x1="1275.50" y1="206.4" x2="1275.50" y2="280.7" stroke="#4a4d56" stroke-width="1.15"/>
<line x1="1283.50" y1="236.4" x2="1283.50" y2="275.4" stroke="#4a4d56" stroke-width="1.15"/>
<line x1="1290.50" y1="237.9" x2="1290.50" y2="265.0" stroke="#4a4d56" stroke-width="1.15"/>
<line x1="1298.50" y1="235.0" x2="1298.50" y2="266.4" stroke="#4a4d56" stroke-width="1.15"/>
<line x1="1306.50" y1="252.9" x2="1306.50" y2="291.4" stroke="#4a4d56" stroke-width="1.15"/>
<line x1="1313.50" y1="263.0" x2="1313.50" y2="313.4" stroke="#4a4d56" stroke-width="1.15"/>
<line x1="1321.50" y1="302.3" x2="1321.50" y2="363.5" stroke="#4a4d56" stroke-width="1.15"/>
<line x1="1328.50" y1="313.2" x2="1328.50" y2="343.7" stroke="#4a4d56" stroke-width="1.15"/>
<line x1="1336.50" y1="309.7" x2="1336.50" y2="351.0" stroke="#4a4d56" stroke-width="1.15"/>
<line x1="1343.50" y1="307.9" x2="1343.50" y2="334.2" stroke="#4a4d56" stroke-width="1.15"/>
<line x1="1351.50" y1="324.4" x2="1351.50" y2="347.1" stroke="#4a4d56" stroke-width="1.15"/>
<line x1="1359.50" y1="323.3" x2="1359.50" y2="339.1" stroke="#4a4d56" stroke-width="1.15"/>
<line x1="1366.50" y1="319.3" x2="1366.50" y2="337.5" stroke="#4a4d56" stroke-width="1.15"/>
<line x1="1374.50" y1="307.1" x2="1374.50" y2="327.4" stroke="#4a4d56" stroke-width="1.15"/>
<line x1="1381.50" y1="295.3" x2="1381.50" y2="324.0" stroke="#4a4d56" stroke-width="1.15"/>
<line x1="1389.50" y1="311.5" x2="1389.50" y2="340.2" stroke="#4a4d56" stroke-width="1.15"/>
<line x1="1396.50" y1="322.9" x2="1396.50" y2="385.6" stroke="#4a4d56" stroke-width="1.15"/>
<line x1="1404.50" y1="369.6" x2="1404.50" y2="467.4" stroke="#4a4d56" stroke-width="1.15"/>
<rect x="15.74" y="801.10" width="5.7" height="2.3" fill="#0d0d0d"/>
<rect x="24.11" y="787.70" width="4.1" height="14.30" fill="#f0f0f0" stroke="#0d0d0d" stroke-width="1.6"/>
<rect x="31.69" y="787.70" width="4.1" height="41.00" fill="#999999" stroke="#0d0d0d" stroke-width="1.6"/>
<rect x="39.26" y="830.40" width="4.1" height="31.30" fill="#999999" stroke="#0d0d0d" stroke-width="1.6"/>
<rect x="46.83" y="856.10" width="4.1" height="5.60" fill="#f0f0f0" stroke="#0d0d0d" stroke-width="1.6"/>
<rect x="54.41" y="825.20" width="4.1" height="29.30" fill="#f0f0f0" stroke="#0d0d0d" stroke-width="1.6"/>
<rect x="61.98" y="825.20" width="4.1" height="39.50" fill="#999999" stroke="#0d0d0d" stroke-width="1.6"/>
<rect x="69.55" y="866.30" width="4.1" height="10.10" fill="#999999" stroke="#0d0d0d" stroke-width="1.6"/>
<rect x="77.13" y="873.10" width="4.1" height="3.30" fill="#f0f0f0" stroke="#0d0d0d" stroke-width="1.6"/>
<rect x="84.70" y="866.20" width="4.1" height="5.60" fill="#f0f0f0" stroke="#0d0d0d" stroke-width="1.6"/>
<rect x="92.27" y="866.50" width="4.1" height="1.00" fill="#999999" stroke="#0d0d0d" stroke-width="1.6"/>
<rect x="99.84" y="863.90" width="4.1" height="3.60" fill="#f0f0f0" stroke="#0d0d0d" stroke-width="1.6"/>
<rect x="107.42" y="845.40" width="4.1" height="16.70" fill="#f0f0f0" stroke="#0d0d0d" stroke-width="1.6"/>
<rect x="114.99" y="840.50" width="4.1" height="3.30" fill="#f0f0f0" stroke="#0d0d0d" stroke-width="1.6"/>
<rect x="122.56" y="840.50" width="4.1" height="85.60" fill="#999999" stroke="#0d0d0d" stroke-width="1.6"/>
<rect x="129.34" y="925.20" width="5.7" height="2.3" fill="#0d0d0d"/>
<rect x="137.71" y="925.10" width="4.1" height="1.50" fill="#f0f0f0" stroke="#0d0d0d" stroke-width="1.6"/>
<rect x="145.28" y="911.20" width="4.1" height="12.30" fill="#f0f0f0" stroke="#0d0d0d" stroke-width="1.6"/>
<rect x="152.06" y="908.85" width="5.7" height="2.3" fill="#0d0d0d"/>
<rect x="160.43" y="911.20" width="4.1" height="5.60" fill="#999999" stroke="#0d0d0d" stroke-width="1.6"/>
<rect x="167.20" y="915.55" width="5.7" height="2.3" fill="#0d0d0d"/>
<rect x="175.58" y="916.80" width="4.1" height="2.70" fill="#f0f0f0" stroke="#0d0d0d" stroke-width="1.6"/>
<rect x="183.15" y="910.50" width="4.1" height="9.10" fill="#f0f0f0" stroke="#0d0d0d" stroke-width="1.6"/>
<rect x="190.72" y="841.50" width="4.1" height="67.10" fill="#f0f0f0" stroke="#0d0d0d" stroke-width="1.6"/>
<rect x="198.30" y="811.60" width="4.1" height="27.80" fill="#f0f0f0" stroke="#0d0d0d" stroke-width="1.6"/>
<rect x="205.87" y="795.90" width="4.1" height="13.90" fill="#f0f0f0" stroke="#0d0d0d" stroke-width="1.6"/>
<rect x="213.44" y="795.90" width="4.1" height="10.00" fill="#999999" stroke="#0d0d0d" stroke-width="1.6"/>
<rect x="221.02" y="808.10" width="4.1" height="15.40" fill="#999999" stroke="#0d0d0d" stroke-width="1.6"/>
<rect x="228.59" y="787.80" width="4.1" height="35.70" fill="#f0f0f0" stroke="#0d0d0d" stroke-width="1.6"/>
<rect x="236.16" y="787.80" width="4.1" height="9.00" fill="#999999" stroke="#0d0d0d" stroke-width="1.6"/>
<rect x="243.74" y="798.40" width="4.1" height="15.20" fill="#999999" stroke="#0d0d0d" stroke-width="1.6"/>
<rect x="251.31" y="815.80" width="4.1" height="4.80" fill="#999999" stroke="#0d0d0d" stroke-width="1.6"/>
<rect x="258.88" y="738.10" width="4.1" height="82.90" fill="#f0f0f0" stroke="#0d0d0d" stroke-width="1.6"/>
<rect x="265.66" y="735.15" width="5.7" height="2.3" fill="#0d0d0d"/>
<rect x="274.03" y="735.20" width="4.1" height="1.30" fill="#999999" stroke="#0d0d0d" stroke-width="1.6"/>
<rect x="280.80" y="732.05" width="5.7" height="2.3" fill="#0d0d0d"/>
<rect x="289.17" y="709.80" width="4.1" height="21.80" fill="#f0f0f0" stroke="#0d0d0d" stroke-width="1.6"/>
<rect x="296.75" y="709.80" width="4.1" height="30.90" fill="#999999" stroke="#0d0d0d" stroke-width="1.6"/>
<rect x="304.32" y="722.30" width="4.1" height="18.40" fill="#f0f0f0" stroke="#0d0d0d" stroke-width="1.6"/>
<rect x="311.89" y="722.30" width="4.1" height="7.60" fill="#999999" stroke="#0d0d0d" stroke-width="1.6"/>
<rect x="319.47" y="732.20" width="4.1" height="17.60" fill="#999999" stroke="#0d0d0d" stroke-width="1.6"/>
<rect x="326.24" y="750.65" width="5.7" height="2.3" fill="#0d0d0d"/>
<rect x="334.61" y="737.10" width="4.1" height="14.50" fill="#f0f0f0" stroke="#0d0d0d" stroke-width="1.6"/>
<rect x="342.19" y="737.10" width="4.1" height="9.90" fill="#999999" stroke="#0d0d0d" stroke-width="1.6"/>
<rect x="349.76" y="749.20" width="4.1" height="13.50" fill="#999999" stroke="#0d0d0d" stroke-width="1.6"/>
<rect x="357.33" y="759.20" width="4.1" height="3.50" fill="#f0f0f0" stroke="#0d0d0d" stroke-width="1.6"/>
<rect x="364.91" y="708.00" width="4.1" height="49.30" fill="#f0f0f0" stroke="#0d0d0d" stroke-width="1.6"/>
<rect x="371.68" y="705.15" width="5.7" height="2.3" fill="#0d0d0d"/>
<rect x="380.05" y="706.20" width="4.1" height="3.20" fill="#999999" stroke="#0d0d0d" stroke-width="1.6"/>
<rect x="386.83" y="708.05" width="5.7" height="2.3" fill="#0d0d0d"/>
<rect x="394.40" y="709.30" width="5.7" height="2.3" fill="#0d0d0d"/>
<rect x="402.77" y="712.30" width="4.1" height="7.40" fill="#999999" stroke="#0d0d0d" stroke-width="1.6"/>
<rect x="409.55" y="720.65" width="5.7" height="2.3" fill="#0d0d0d"/>
<rect x="417.12" y="720.65" width="5.7" height="2.3" fill="#0d0d0d"/>
<rect x="425.49" y="721.90" width="4.1" height="37.70" fill="#999999" stroke="#0d0d0d" stroke-width="1.6"/>
<rect x="432.27" y="758.85" width="5.7" height="2.3" fill="#0d0d0d"/>
<rect x="439.84" y="761.05" width="5.7" height="2.3" fill="#0d0d0d"/>
<rect x="447.41" y="762.55" width="5.7" height="2.3" fill="#0d0d0d"/>
<rect x="455.79" y="756.40" width="4.1" height="7.30" fill="#f0f0f0" stroke="#0d0d0d" stroke-width="1.6"/>
<rect x="463.36" y="756.40" width="4.1" height="2.50" fill="#999999" stroke="#0d0d0d" stroke-width="1.6"/>
<rect x="470.93" y="737.30" width="4.1" height="21.40" fill="#f0f0f0" stroke="#0d0d0d" stroke-width="1.6"/>
<rect x="477.70" y="734.85" width="5.7" height="2.3" fill="#0d0d0d"/>
<rect x="486.08" y="739.10" width="4.1" height="7.10" fill="#999999" stroke="#0d0d0d" stroke-width="1.6"/>
<rect x="493.65" y="713.90" width="4.1" height="32.70" fill="#f0f0f0" stroke="#0d0d0d" stroke-width="1.6"/>
<rect x="501.22" y="664.10" width="4.1" height="47.70" fill="#f0f0f0" stroke="#0d0d0d" stroke-width="1.6"/>
<rect x="508.80" y="658.70" width="4.1" height="3.80" fill="#f0f0f0" stroke="#0d0d0d" stroke-width="1.6"/>
<rect x="516.37" y="639.10" width="4.1" height="17.60" fill="#f0f0f0" stroke="#0d0d0d" stroke-width="1.6"/>
<rect x="523.94" y="636.10" width="4.1" height="0.80" fill="#f0f0f0" stroke="#0d0d0d" stroke-width="1.6"/>
<rect x="530.72" y="633.05" width="5.7" height="2.3" fill="#0d0d0d"/>
<rect x="539.09" y="612.60" width="4.1" height="20.80" fill="#f0f0f0" stroke="#0d0d0d" stroke-width="1.6"/>
<rect x="546.66" y="580.00" width="4.1" height="30.60" fill="#f0f0f0" stroke="#0d0d0d" stroke-width="1.6"/>
<rect x="554.24" y="580.00" width="4.1" height="18.50" fill="#999999" stroke="#0d0d0d" stroke-width="1.6"/>
<rect x="561.81" y="587.00" width="4.1" height="11.50" fill="#f0f0f0" stroke="#0d0d0d" stroke-width="1.6"/>
<rect x="569.38" y="587.00" width="4.1" height="3.40" fill="#999999" stroke="#0d0d0d" stroke-width="1.6"/>
<rect x="576.96" y="579.20" width="4.1" height="11.60" fill="#f0f0f0" stroke="#0d0d0d" stroke-width="1.6"/>
<rect x="584.53" y="579.30" width="4.1" height="15.50" fill="#999999" stroke="#0d0d0d" stroke-width="1.6"/>
<rect x="591.30" y="594.45" width="5.7" height="2.3" fill="#0d0d0d"/>
<rect x="599.68" y="595.00" width="4.1" height="1.20" fill="#f0f0f0" stroke="#0d0d0d" stroke-width="1.6"/>
<rect x="607.25" y="590.10" width="4.1" height="2.80" fill="#f0f0f0" stroke="#0d0d0d" stroke-width="1.6"/>
<rect x="614.82" y="546.10" width="4.1" height="42.40" fill="#f0f0f0" stroke="#0d0d0d" stroke-width="1.6"/>
<rect x="622.40" y="518.70" width="4.1" height="24.90" fill="#f0f0f0" stroke="#0d0d0d" stroke-width="1.6"/>
<rect x="629.97" y="518.40" width="4.1" height="1.10" fill="#999999" stroke="#0d0d0d" stroke-width="1.6"/>
<rect x="637.54" y="451.30" width="4.1" height="68.20" fill="#f0f0f0" stroke="#0d0d0d" stroke-width="1.6"/>
<rect x="645.12" y="420.00" width="4.1" height="29.30" fill="#f0f0f0" stroke="#0d0d0d" stroke-width="1.6"/>
<rect x="651.89" y="419.15" width="5.7" height="2.3" fill="#0d0d0d"/>
<rect x="660.26" y="423.20" width="4.1" height="3.90" fill="#999999" stroke="#0d0d0d" stroke-width="1.6"/>
<rect x="667.83" y="408.70" width="4.1" height="18.40" fill="#f0f0f0" stroke="#0d0d0d" stroke-width="1.6"/>
<rect x="675.41" y="408.70" width="4.1" height="7.90" fill="#999999" stroke="#0d0d0d" stroke-width="1.6"/>
<rect x="682.98" y="418.20" width="4.1" height="17.20" fill="#999999" stroke="#0d0d0d" stroke-width="1.6"/>
<rect x="690.55" y="437.10" width="4.1" height="2.50" fill="#999999" stroke="#0d0d0d" stroke-width="1.6"/>
<rect x="698.13" y="441.20" width="4.1" height="8.30" fill="#999999" stroke="#0d0d0d" stroke-width="1.6"/>
<rect x="705.70" y="446.70" width="4.1" height="2.80" fill="#f0f0f0" stroke="#0d0d0d" stroke-width="1.6"/>
<rect x="713.27" y="447.00" width="4.1" height="11.50" fill="#999999" stroke="#0d0d0d" stroke-width="1.6"/>
<rect x="720.85" y="434.40" width="4.1" height="24.10" fill="#f0f0f0" stroke="#0d0d0d" stroke-width="1.6"/>
<rect x="728.42" y="422.20" width="4.1" height="10.30" fill="#f0f0f0" stroke="#0d0d0d" stroke-width="1.6"/>
<rect x="735.99" y="422.20" width="4.1" height="2.20" fill="#999999" stroke="#0d0d0d" stroke-width="1.6"/>
<rect x="743.57" y="417.00" width="4.1" height="7.40" fill="#f0f0f0" stroke="#0d0d0d" stroke-width="1.6"/>
<rect x="751.14" y="417.00" width="4.1" height="12.70" fill="#999999" stroke="#0d0d0d" stroke-width="1.6"/>
<rect x="758.71" y="431.90" width="4.1" height="17.00" fill="#999999" stroke="#0d0d0d" stroke-width="1.6"/>
<rect x="766.29" y="450.80" width="4.1" height="0.90" fill="#999999" stroke="#0d0d0d" stroke-width="1.6"/>
<rect x="773.86" y="453.30" width="4.1" height="39.20" fill="#999999" stroke="#0d0d0d" stroke-width="1.6"/>
<rect x="781.43" y="464.20" width="4.1" height="28.30" fill="#f0f0f0" stroke="#0d0d0d" stroke-width="1.6"/>
<rect x="789.01" y="424.20" width="4.1" height="38.60" fill="#f0f0f0" stroke="#0d0d0d" stroke-width="1.6"/>
<rect x="795.78" y="421.15" width="5.7" height="2.3" fill="#0d0d0d"/>
<rect x="804.15" y="423.70" width="4.1" height="54.60" fill="#999999" stroke="#0d0d0d" stroke-width="1.6"/>
<rect x="811.73" y="476.90" width="4.1" height="0.90" fill="#f0f0f0" stroke="#0d0d0d" stroke-width="1.6"/>
<rect x="818.50" y="475.65" width="5.7" height="2.3" fill="#0d0d0d"/>
<rect x="826.87" y="445.10" width="4.1" height="31.50" fill="#f0f0f0" stroke="#0d0d0d" stroke-width="1.6"/>
<rect x="834.45" y="445.10" width="4.1" height="38.60" fill="#999999" stroke="#0d0d0d" stroke-width="1.6"/>
<rect x="842.02" y="485.50" width="4.1" height="13.30" fill="#999999" stroke="#0d0d0d" stroke-width="1.6"/>
<rect x="849.59" y="474.60" width="4.1" height="24.20" fill="#f0f0f0" stroke="#0d0d0d" stroke-width="1.6"/>
<rect x="857.16" y="449.00" width="4.1" height="23.80" fill="#f0f0f0" stroke="#0d0d0d" stroke-width="1.6"/>
<rect x="864.74" y="438.10" width="4.1" height="8.40" fill="#f0f0f0" stroke="#0d0d0d" stroke-width="1.6"/>
<rect x="872.31" y="438.10" width="4.1" height="12.70" fill="#999999" stroke="#0d0d0d" stroke-width="1.6"/>
<rect x="879.08" y="450.25" width="5.7" height="2.3" fill="#0d0d0d"/>
<rect x="887.46" y="419.40" width="4.1" height="31.40" fill="#f0f0f0" stroke="#0d0d0d" stroke-width="1.6"/>
<rect x="895.03" y="419.90" width="4.1" height="3.00" fill="#999999" stroke="#0d0d0d" stroke-width="1.6"/>
<rect x="902.60" y="421.50" width="4.1" height="1.40" fill="#f0f0f0" stroke="#0d0d0d" stroke-width="1.6"/>
<rect x="910.18" y="366.70" width="4.1" height="52.10" fill="#f0f0f0" stroke="#0d0d0d" stroke-width="1.6"/>
<rect x="917.75" y="326.90" width="4.1" height="37.80" fill="#f0f0f0" stroke="#0d0d0d" stroke-width="1.6"/>
<rect x="925.32" y="296.70" width="4.1" height="28.60" fill="#f0f0f0" stroke="#0d0d0d" stroke-width="1.6"/>
<rect x="932.90" y="296.70" width="4.1" height="0.60" fill="#999999" stroke="#0d0d0d" stroke-width="1.6"/>
<rect x="940.47" y="285.80" width="4.1" height="11.50" fill="#f0f0f0" stroke="#0d0d0d" stroke-width="1.6"/>
<rect x="948.04" y="274.30" width="4.1" height="9.00" fill="#f0f0f0" stroke="#0d0d0d" stroke-width="1.6"/>
<rect x="955.62" y="274.30" width="4.1" height="30.10" fill="#999999" stroke="#0d0d0d" stroke-width="1.6"/>
<rect x="963.19" y="306.90" width="4.1" height="3.30" fill="#999999" stroke="#0d0d0d" stroke-width="1.6"/>
<rect x="970.76" y="295.10" width="4.1" height="15.40" fill="#f0f0f0" stroke="#0d0d0d" stroke-width="1.6"/>
<rect x="978.34" y="295.10" width="4.1" height="11.80" fill="#999999" stroke="#0d0d0d" stroke-width="1.6"/>
<rect x="985.91" y="284.20" width="4.1" height="22.70" fill="#f0f0f0" stroke="#0d0d0d" stroke-width="1.6"/>
<rect x="993.48" y="280.30" width="4.1" height="1.90" fill="#f0f0f0" stroke="#0d0d0d" stroke-width="1.6"/>
<rect x="1001.06" y="280.00" width="4.1" height="15.40" fill="#999999" stroke="#0d0d0d" stroke-width="1.6"/>
<rect x="1008.63" y="297.20" width="4.1" height="2.80" fill="#999999" stroke="#0d0d0d" stroke-width="1.6"/>
<rect x="1015.40" y="299.25" width="5.7" height="2.3" fill="#0d0d0d"/>
<rect x="1022.98" y="300.15" width="5.7" height="2.3" fill="#0d0d0d"/>
<rect x="1031.35" y="302.80" width="4.1" height="5.40" fill="#999999" stroke="#0d0d0d" stroke-width="1.6"/>
<rect x="1038.92" y="310.30" width="4.1" height="52.30" fill="#999999" stroke="#0d0d0d" stroke-width="1.6"/>
<rect x="1046.49" y="357.30" width="4.1" height="5.10" fill="#f0f0f0" stroke="#0d0d0d" stroke-width="1.6"/>
<rect x="1054.07" y="342.20" width="4.1" height="12.60" fill="#f0f0f0" stroke="#0d0d0d" stroke-width="1.6"/>
<rect x="1061.64" y="342.20" width="4.1" height="13.30" fill="#999999" stroke="#0d0d0d" stroke-width="1.6"/>
<rect x="1069.21" y="357.70" width="4.1" height="15.00" fill="#999999" stroke="#0d0d0d" stroke-width="1.6"/>
<rect x="1076.79" y="351.40" width="4.1" height="21.30" fill="#f0f0f0" stroke="#0d0d0d" stroke-width="1.6"/>
<rect x="1084.36" y="345.30" width="4.1" height="4.10" fill="#f0f0f0" stroke="#0d0d0d" stroke-width="1.6"/>
<rect x="1091.93" y="312.20" width="4.1" height="31.50" fill="#f0f0f0" stroke="#0d0d0d" stroke-width="1.6"/>
<rect x="1098.71" y="309.20" width="5.7" height="2.3" fill="#0d0d0d"/>
<rect x="1107.08" y="275.00" width="4.1" height="33.50" fill="#f0f0f0" stroke="#0d0d0d" stroke-width="1.6"/>
<rect x="1114.65" y="267.20" width="4.1" height="5.50" fill="#f0f0f0" stroke="#0d0d0d" stroke-width="1.6"/>
<rect x="1122.23" y="259.20" width="4.1" height="6.40" fill="#f0f0f0" stroke="#0d0d0d" stroke-width="1.6"/>
<rect x="1129.80" y="259.20" width="4.1" height="9.10" fill="#999999" stroke="#0d0d0d" stroke-width="1.6"/>
<rect x="1136.57" y="266.95" width="5.7" height="2.3" fill="#0d0d0d"/>
<rect x="1144.15" y="266.95" width="5.7" height="2.3" fill="#0d0d0d"/>
<rect x="1152.52" y="270.10" width="4.1" height="13.60" fill="#999999" stroke="#0d0d0d" stroke-width="1.6"/>
<rect x="1160.09" y="261.10" width="4.1" height="22.60" fill="#f0f0f0" stroke="#0d0d0d" stroke-width="1.6"/>
<rect x="1167.67" y="258.60" width="4.1" height="0.90" fill="#999999" stroke="#0d0d0d" stroke-width="1.6"/>
<rect x="1175.24" y="227.90" width="4.1" height="29.10" fill="#f0f0f0" stroke="#0d0d0d" stroke-width="1.6"/>
<rect x="1182.81" y="228.10" width="4.1" height="3.50" fill="#999999" stroke="#0d0d0d" stroke-width="1.6"/>
<rect x="1190.39" y="226.90" width="4.1" height="4.70" fill="#f0f0f0" stroke="#0d0d0d" stroke-width="1.6"/>
<rect x="1197.96" y="226.40" width="4.1" height="14.00" fill="#999999" stroke="#0d0d0d" stroke-width="1.6"/>
<rect x="1205.53" y="227.30" width="4.1" height="13.10" fill="#f0f0f0" stroke="#0d0d0d" stroke-width="1.6"/>
<rect x="1213.11" y="227.50" width="4.1" height="3.20" fill="#999999" stroke="#0d0d0d" stroke-width="1.6"/>
<rect x="1220.68" y="232.90" width="4.1" height="9.90" fill="#999999" stroke="#0d0d0d" stroke-width="1.6"/>
<rect x="1228.25" y="244.80" width="4.1" height="14.40" fill="#999999" stroke="#0d0d0d" stroke-width="1.6"/>
<rect x="1235.82" y="252.20" width="4.1" height="7.00" fill="#f0f0f0" stroke="#0d0d0d" stroke-width="1.6"/>
<rect x="1243.40" y="239.40" width="4.1" height="10.90" fill="#f0f0f0" stroke="#0d0d0d" stroke-width="1.6"/>
<rect x="1250.17" y="236.75" width="5.7" height="2.3" fill="#0d0d0d"/>
<rect x="1258.54" y="239.40" width="4.1" height="7.20" fill="#999999" stroke="#0d0d0d" stroke-width="1.6"/>
<rect x="1266.12" y="215.10" width="4.1" height="32.00" fill="#f0f0f0" stroke="#0d0d0d" stroke-width="1.6"/>
<rect x="1273.69" y="215.10" width="4.1" height="23.00" fill="#999999" stroke="#0d0d0d" stroke-width="1.6"/>
<rect x="1281.26" y="240.10" width="4.1" height="17.70" fill="#999999" stroke="#0d0d0d" stroke-width="1.6"/>
<rect x="1288.84" y="241.50" width="4.1" height="16.30" fill="#f0f0f0" stroke="#0d0d0d" stroke-width="1.6"/>
<rect x="1296.41" y="241.50" width="4.1" height="10.10" fill="#999999" stroke="#0d0d0d" stroke-width="1.6"/>
<rect x="1303.98" y="253.70" width="4.1" height="16.90" fill="#999999" stroke="#0d0d0d" stroke-width="1.6"/>
<rect x="1311.56" y="273.10" width="4.1" height="35.50" fill="#999999" stroke="#0d0d0d" stroke-width="1.6"/>
<rect x="1319.13" y="310.20" width="4.1" height="27.40" fill="#999999" stroke="#0d0d0d" stroke-width="1.6"/>
<rect x="1326.70" y="325.10" width="4.1" height="12.50" fill="#f0f0f0" stroke="#0d0d0d" stroke-width="1.6"/>
<rect x="1333.48" y="322.55" width="5.7" height="2.3" fill="#0d0d0d"/>
<rect x="1341.85" y="325.10" width="4.1" height="6.60" fill="#999999" stroke="#0d0d0d" stroke-width="1.6"/>
<rect x="1348.62" y="330.75" width="5.7" height="2.3" fill="#0d0d0d"/>
<rect x="1356.20" y="330.95" width="5.7" height="2.3" fill="#0d0d0d"/>
<rect x="1364.57" y="320.10" width="4.1" height="12.30" fill="#f0f0f0" stroke="#0d0d0d" stroke-width="1.6"/>
<rect x="1371.34" y="319.10" width="5.7" height="2.3" fill="#0d0d0d"/>
<rect x="1379.72" y="312.30" width="4.1" height="8.10" fill="#f0f0f0" stroke="#0d0d0d" stroke-width="1.6"/>
<rect x="1387.29" y="312.30" width="4.1" height="25.30" fill="#999999" stroke="#0d0d0d" stroke-width="1.6"/>
<rect x="1394.86" y="339.40" width="4.1" height="40.00" fill="#999999" stroke="#0d0d0d" stroke-width="1.6"/>
<rect x="1402.44" y="381.30" width="4.1" height="53.30" fill="#999999" stroke="#0d0d0d" stroke-width="1.6"/>
<text x="21.63" y="763.80" font-size="22.00" textLength="29.36" lengthAdjust="spacingAndGlyphs" fill="#f23645" style="font-weight:bold;">LH</text>
<text x="120.45" y="969.80" font-size="22.00" textLength="24.67" lengthAdjust="spacingAndGlyphs" fill="#f23645" style="font-weight:bold;">LL</text>
<text x="280.09" y="694.65" font-size="22.00" textLength="32.69" lengthAdjust="spacingAndGlyphs" fill="#43a946" style="font-weight:bold;">HH</text>
<text x="370.49" y="682.90" font-size="22.00" textLength="32.63" lengthAdjust="spacingAndGlyphs" fill="#43a946" style="font-weight:bold;">HH</text>
<rect x="343.7" y="784.5" width="37.6" height="28.5" fill="#ffffff" fill-opacity="0.87"/>
<text x="347.76" y="807.50" font-size="22.00" textLength="28.70" lengthAdjust="spacingAndGlyphs" fill="#43a946" style="font-weight:bold;">HL</text>
<rect x="449.5" y="781.8" width="37.7" height="28.5" fill="#ffffff" fill-opacity="0.87"/>
<text x="453.55" y="804.80" font-size="22.00" textLength="28.81" lengthAdjust="spacingAndGlyphs" fill="#43a946" style="font-weight:bold;">HL</text>
<text x="567.26" y="534.30" font-size="22.00" textLength="33.30" lengthAdjust="spacingAndGlyphs" fill="#43a946" style="font-weight:bold;">HH</text>
<text x="598.06" y="644.50" font-size="22.00" textLength="28.70" lengthAdjust="spacingAndGlyphs" fill="#43a946" style="font-weight:bold;">HL</text>
<text x="636.08" y="383.00" font-size="22.00" textLength="32.85" lengthAdjust="spacingAndGlyphs" fill="#43a946" style="font-weight:bold;">HH</text>
<text x="831.94" y="552.40" font-size="22.00" textLength="29.03" lengthAdjust="spacingAndGlyphs" fill="#43a946" style="font-weight:bold;">HL</text>
<text x="983.99" y="248.90" font-size="22.00" textLength="32.52" lengthAdjust="spacingAndGlyphs" fill="#43a946" style="font-weight:bold;">HH</text>
<text x="1067.27" y="421.30" font-size="22.00" textLength="28.49" lengthAdjust="spacingAndGlyphs" fill="#43a946" style="font-weight:bold;">HL</text>
<text x="1256.66" y="197.20" font-size="22.00" textLength="33.30" lengthAdjust="spacingAndGlyphs" fill="#43a946" style="font-weight:bold;">HH</text>
<text x="1370.45" y="259.70" font-size="22.00" textLength="28.80" lengthAdjust="spacingAndGlyphs" fill="#f23645" style="font-weight:bold;">LH</text>
<text x="1310.18" y="389.80" font-size="22.00" textLength="28.38" lengthAdjust="spacingAndGlyphs" fill="#43a946" style="font-weight:bold;">HL</text>
<text x="1507.17" y="380.90" font-size="22.00" textLength="28.58" lengthAdjust="spacingAndGlyphs" fill="#f23645" style="font-weight:bold;">LH</text>
<text x="1430.88" y="509.00" font-size="22.00" textLength="24.13" lengthAdjust="spacingAndGlyphs" fill="#f23645" style="font-weight:bold;">LL</text>
<text x="1567.35" y="563.80" font-size="22.00" textLength="24.67" lengthAdjust="spacingAndGlyphs" fill="#f23645" style="font-weight:bold;">LL</text>
<text x="52.95" y="1002.70" font-size="22.40" textLength="12.82" lengthAdjust="spacingAndGlyphs" fill="#0048ff" style="font-weight:bold;">4</text>
<text x="72.13" y="1002.70" font-size="22.40" textLength="45.20" lengthAdjust="spacingAndGlyphs" fill="#0048ff" style="font-weight:bold;">year</text>
<text x="122.74" y="1002.70" font-size="22.40" textLength="55.32" lengthAdjust="spacingAndGlyphs" fill="#0048ff" style="font-weight:bold;">cycle</text>
<text x="182.86" y="1002.70" font-size="22.40" textLength="36.69" lengthAdjust="spacingAndGlyphs" fill="#0048ff" style="font-weight:bold;">low</text>
<text x="1500.05" y="600.00" font-size="22.40" textLength="12.82" lengthAdjust="spacingAndGlyphs" fill="#0048ff" style="font-weight:bold;">4</text>
<text x="1519.23" y="600.00" font-size="22.40" textLength="45.20" lengthAdjust="spacingAndGlyphs" fill="#0048ff" style="font-weight:bold;">year</text>
<text x="1569.84" y="600.00" font-size="22.40" textLength="55.32" lengthAdjust="spacingAndGlyphs" fill="#0048ff" style="font-weight:bold;">cycle</text>
<text x="1629.96" y="600.00" font-size="22.40" textLength="36.69" lengthAdjust="spacingAndGlyphs" fill="#0048ff" style="font-weight:bold;">low</text>
<text x="674.26" y="707.70" font-size="22.60" textLength="26.62" lengthAdjust="spacingAndGlyphs" fill="#0048ff" style="font-weight:bold;">50</text>
<text x="707.86" y="707.70" font-size="22.60" textLength="53.41" lengthAdjust="spacingAndGlyphs" fill="#0048ff" style="font-weight:bold;">week</text>
<text x="767.45" y="707.70" font-size="22.60" textLength="83.91" lengthAdjust="spacingAndGlyphs" fill="#0048ff" style="font-weight:bold;">average</text>
<text x="1666.41" y="541.70" font-size="22.60" textLength="59.26" lengthAdjust="spacingAndGlyphs" fill="#555555" style="font-weight:bold;">-60%</text>
<text x="1731.64" y="541.70" font-size="22.60" textLength="19.73" lengthAdjust="spacingAndGlyphs" fill="#555555" style="font-weight:bold;">@</text>
<text x="1757.06" y="541.70" font-size="22.60" textLength="39.91" lengthAdjust="spacingAndGlyphs" fill="#555555" style="font-weight:bold;">50k</text>
<text x="1404.76" y="1019.30" font-size="37.80" textLength="52.59" lengthAdjust="spacingAndGlyphs" fill="#f23645" style="font-weight:bold;">(3)</text>
<text x="1466.04" y="1019.30" font-size="37.80" textLength="67.33" lengthAdjust="spacingAndGlyphs" fill="#f23645" style="font-weight:bold;">Een</text>
<text x="1539.61" y="1019.30" font-size="37.80" textLength="98.58" lengthAdjust="spacingAndGlyphs" fill="#f23645" style="font-weight:bold;">milde</text>
<text x="1645.90" y="1019.30" font-size="37.80" textLength="183.77" lengthAdjust="spacingAndGlyphs" fill="#f23645" style="font-weight:bold;">bearmarkt</text>
<polyline points="1323.2,316.5 1336.3,354.0 1381.6,281.0 1442.3,473.7 1525.8,392.6 1578.8,529.2 1617.8,448.8" fill="none" stroke="#5a5a5a" stroke-width="2.6" stroke-linejoin="round" stroke-linecap="round"/>
<polyline points="1598.8,455.2 1617.8,448.8 1624.0,466.6" fill="none" stroke="#5a5a5a" stroke-width="2.6" stroke-linejoin="round" stroke-linecap="butt"/>
<rect x="1594.10" y="529.9" width="2.6" height="2.6" rx="0.5" fill="#f26a00"/>
<rect x="1602.25" y="529.9" width="2.6" height="2.6" rx="0.5" fill="#f26a00"/>
<rect x="1610.40" y="529.9" width="2.6" height="2.6" rx="0.5" fill="#f26a00"/>
<rect x="1618.55" y="529.9" width="2.6" height="2.6" rx="0.5" fill="#f26a00"/>
<rect x="1626.70" y="529.9" width="2.6" height="2.6" rx="0.5" fill="#f26a00"/>
<rect x="1634.85" y="529.9" width="2.6" height="2.6" rx="0.5" fill="#f26a00"/>
<rect x="1643.00" y="529.9" width="2.6" height="2.6" rx="0.5" fill="#f26a00"/>
<circle cx="678.4" cy="658.1" r="1.3" fill="#0048ff"/>
<circle cx="683.0" cy="664.6" r="1.3" fill="#0048ff"/>
<circle cx="687.7" cy="671.1" r="1.3" fill="#0048ff"/>
<circle cx="692.4" cy="677.6" r="1.3" fill="#0048ff"/>
<path d="M1871,424.6 H1968 Q1971,424.6 1971,427.6 V463 Q1971,466 1968,466 H1871 Z" fill="#808080"/>
<text x="1881.66" y="441.00" font-size="16.60" textLength="81.26" fill="#f4f4f4" style="">65,753.78</text>
<text x="1882.27" y="460.00" font-size="16.60" textLength="54.21" fill="#f4f4f4" style="">2d 14h</text>
<path d="M16.25,1138.85 H31.8 V1158.6 H24 V1146.65 H16.25 Z" fill="#131313"/>
<circle cx="39.4" cy="1142.5" r="3.7" fill="#131313"/>
<path d="M48.4,1138.85 H56.6 L48.9,1158.6 H39.7 Z" fill="#131313"/>
<text x="66.63" y="1158.60" font-size="28.70" textLength="163.72" fill="#131313" style="font-weight:bold;">TradingView</text>
</svg></body></html>
